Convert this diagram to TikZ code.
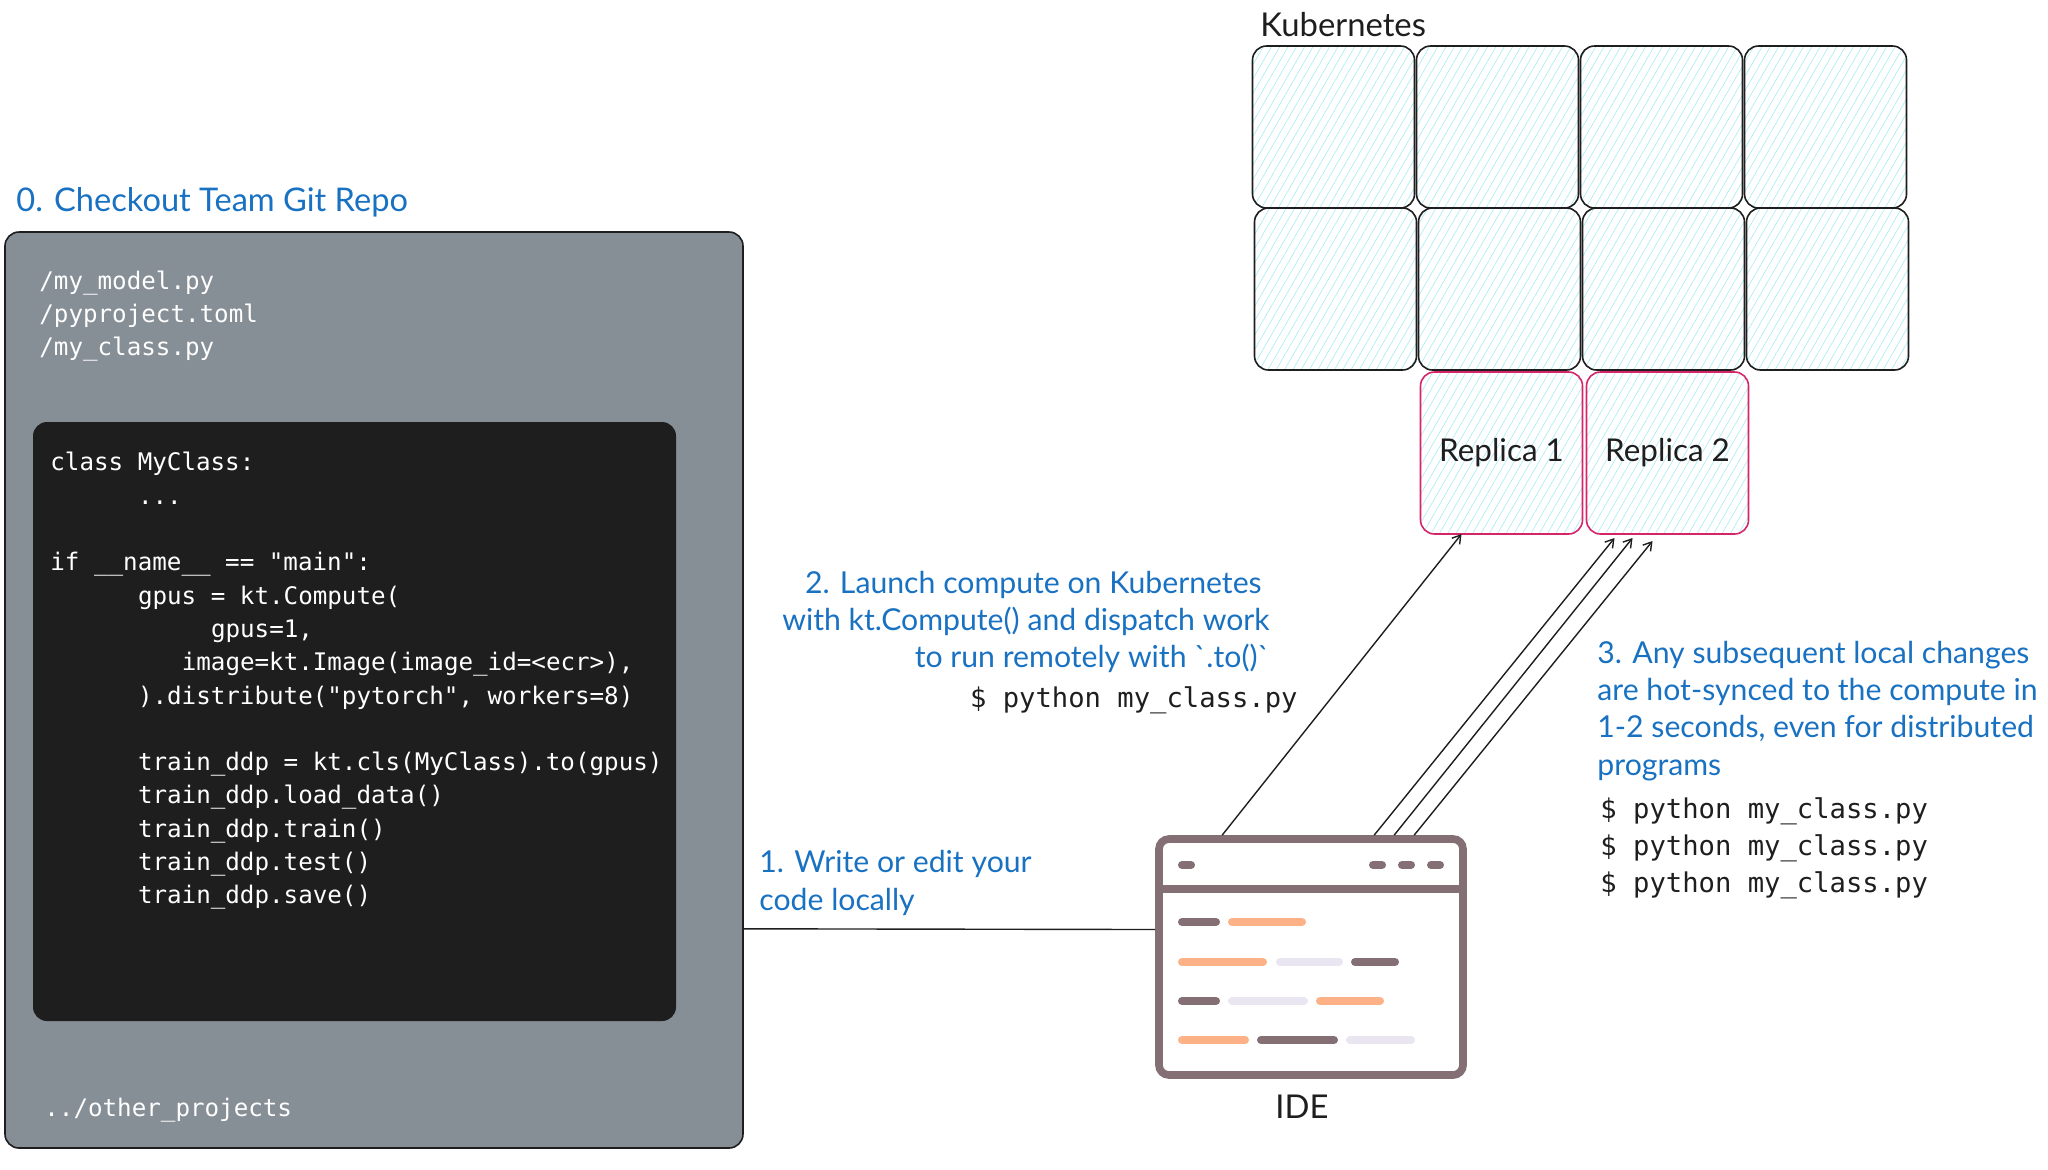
\documentclass[tikz,border=0pt]{standalone}
\usepackage{fontspec}
\usetikzlibrary{arrows.meta, positioning, patterns.meta}
\newfontfamily\stepfont{Lato}
\newfontfamily\codefont{DejaVu Sans Mono}
\definecolor{StepBlue}{RGB}{25, 113, 194}
\definecolor{InkBlack}{RGB}{30, 30, 30}
\definecolor{RepoGray}{RGB}{134, 142, 150}
\definecolor{HatchCyan}{RGB}{165, 234, 245}
\definecolor{ReplicaPink}{RGB}{214, 36, 104}
\definecolor{IdeGray}{RGB}{132, 111, 117}
\definecolor{IdeOrange}{RGB}{253, 177, 135}
\definecolor{IdePale}{RGB}{233, 230, 242}
\newcommand{\codepad}[1]{\hspace*{#1\dimexpr 7.3pt\relax}}
\tikzset{
    podbox/.style={draw=InkBlack, line width=0.8pt, rounded corners=7pt, inner sep=0pt, outer sep=0pt, minimum width=81pt, minimum height=81pt, text=InkBlack, font=\stepfont\fontsize{15.7}{20}\selectfont, pattern={Lines[angle=60, distance=3.6pt, line width=0.3pt]}, pattern color=HatchCyan},
    replicabox/.style={podbox, draw=ReplicaPink},
    steptext/.style={inner sep=0pt, text=StepBlue, font=\stepfont\fontsize{15.1}{18.6}\selectfont},
    plaintext/.style={inner sep=0pt, text=InkBlack, font=\stepfont\fontsize{16.4}{20}\selectfont},
    cmdtext/.style={inner sep=0pt, align=left, text=InkBlack, font=\codefont\fontsize{13.6}{18.6}\selectfont},
    filetext/.style={inner sep=0pt, align=left, text=white, font=\codefont\fontsize{12.1}{16.65}\selectfont},
    wire/.style={draw=InkBlack, line width=0.7pt},
    syncarrow/.style={wire, -{Straight Barb[length=4pt, width=5pt]}},
    idebar/.style={line width=4pt, line cap=round}
}
\begin{document}
\begin{tikzpicture}[x=0.5pt, y=-0.5pt]
    \useasboundingbox (0,0) rectangle (2048,1169);

    % repo with the code in it
    \node[draw=InkBlack, line width=0.8pt, fill=RepoGray, rounded corners=7pt, inner sep=0pt, minimum width=369pt, minimum height=458pt] (Repo) at (374,690) {};
    \node[fill=InkBlack, rounded corners=7pt, inner sep=0pt, minimum width=321.5pt, minimum height=299.5pt] (Code) at (354.5,721.5) {};
    \node[steptext, font=\stepfont\fontsize{16.3}{20}\selectfont, anchor=west] (StepZero) at (16,202) {0. Checkout Team Git Repo};
    \node[filetext, anchor=west] (Files) at (39,316) {/my\_model.py\\/pyproject.toml\\/my\_class.py};
    \node[filetext, anchor=west] (CodeText) at (50,681) {class MyClass:\\
        \codepad{6}...\\[16.65pt]
        if \_\_name\_\_ == "main":\\
        \codepad{6}gpus = kt.Compute(\\
        \codepad{11}gpus=1,\\
        \codepad{9}image=kt.Image(image\_id=<ecr>),\\
        \codepad{6}).distribute("pytorch", workers=8)\\[16.65pt]
        \codepad{6}train\_ddp = kt.cls(MyClass).to(gpus)\\
        \codepad{6}train\_ddp.load\_data()\\
        \codepad{6}train\_ddp.train()\\
        \codepad{6}train\_ddp.test()\\
        \codepad{6}train\_ddp.save()};
    \node[filetext, anchor=west] (Other) at (44,1110) {../other\_projects};

    % cluster
    \node[podbox, anchor=north west] (KA) at (1252.5,46) {};
    \node[podbox, right=1pt of KA] (KB) {};
    \node[podbox, right=1pt of KB] (KC) {};
    \node[podbox, right=1pt of KC] (KD) {};
    \node[podbox, below=0pt of KA, xshift=1pt] (KE) {};
    \node[podbox, right=1pt of KE] (KF) {};
    \node[podbox, right=1pt of KF] (KG) {};
    \node[podbox, right=1pt of KG] (KH) {};
    \node[replicabox, below=1pt of KF, xshift=1pt] (RA) {\raisebox{-1pt}{Replica 1}};
    \node[replicabox, right=2pt of RA] (RB) {\raisebox{-1pt}{Replica 2}};
    \node[plaintext, anchor=west] (Kube) at (1260,25) {Kubernetes};

    % editor window
    \node[draw=IdeGray, line width=3.85pt, rounded corners=5pt, inner sep=0pt, minimum width=152pt, minimum height=118pt] (IDE) at (1311,957) {};
    \node[plaintext, below=8pt of IDE, xshift=-4.5pt] (IdeName) {IDE};
    \draw[IdeGray, line width=3.85pt] (1159,889) -- (1463,889);
    \draw[idebar, IdeGray] (1182,865) -- (1191,865);
    \draw[idebar, IdeGray] (1373,865) -- (1382,865);
    \draw[idebar, IdeGray] (1402,865) -- (1411,865);
    \draw[idebar, IdeGray] (1431,865) -- (1440,865);
    \draw[idebar, IdeGray] (1182,922) -- (1216,922);
    \draw[idebar, IdeOrange] (1232,922) -- (1302,922);
    \draw[idebar, IdeOrange] (1182,962) -- (1263,962);
    \draw[idebar, IdePale] (1280,962) -- (1339,962);
    \draw[idebar, IdeGray] (1355,962) -- (1395,962);
    \draw[idebar, IdeGray] (1182,1001) -- (1216,1001);
    \draw[idebar, IdePale] (1232,1001) -- (1304,1001);
    \draw[idebar, IdeOrange] (1320,1001) -- (1380,1001);
    \draw[idebar, IdeOrange] (1182,1040) -- (1245,1040);
    \draw[idebar, IdeGray] (1261,1040) -- (1334,1040);
    \draw[idebar, IdePale] (1350,1040) -- (1411,1040);

    % connectors
    \draw[wire] ([yshift=110pt]Repo.south east) -- ([yshift=13.75pt]IDE.west);
    \draw[syncarrow] ([xshift=33.5pt]IDE.north west) -- ([xshift=-20pt]RA.south);
    \draw[syncarrow] ([xshift=109.5pt]IDE.north west) -- ([xshift=-26.5pt, yshift=-2pt]RB.south);
    \draw[syncarrow] ([xshift=119.5pt]IDE.north west) -- ([xshift=-17.5pt, yshift=-2pt]RB.south);
    \draw[syncarrow] ([xshift=129.5pt]IDE.north west) -- ([xshift=-7.5pt, yshift=-3.5pt]RB.south);

    % step labels
    \node[steptext, align=left, anchor=west] (StepOne) at (759,883) {1. Write or edit your\\code locally};
    \node[steptext, align=right, anchor=east] (StepTwo) at (1270,622) {2. Launch compute on Kubernetes\hspace*{4pt}\\with kt.Compute() and dispatch work\\to run remotely with `.to()`};
    \node[cmdtext, anchor=east] (CmdTwo) at (1298,700) {\$ python my\_class.py};
    \node[steptext, align=left, anchor=west] (StepThree) at (1597,711) {3. Any subsequent local changes\\are hot-synced to the compute in\\1-2 seconds, even for distributed\\programs};
    \node[cmdtext, anchor=west] (CmdThree) at (1600,848) {\$ python my\_class.py\\\$ python my\_class.py\\\$ python my\_class.py};
\end{tikzpicture}
\end{document}
